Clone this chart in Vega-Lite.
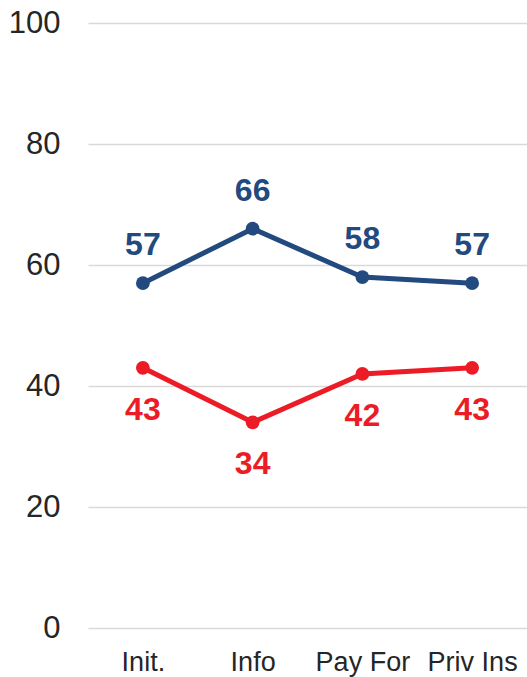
{
  "$schema": "https://vega.github.io/schema/vega-lite/v6.json",
  "width": 439,
  "height": 605,
  "autosize": "none",
  "padding": {"left": 88, "top": 23, "right": 0, "bottom": 49},
  "background": "white",
  "config": {
    "view": {"stroke": null},
    "font": "Liberation Sans"
  },
  "data": {
    "values": [
      {"cat": "Init.", "series": "A", "value": 57},
      {"cat": "Info", "series": "A", "value": 66},
      {"cat": "Pay For", "series": "A", "value": 58},
      {"cat": "Priv Ins", "series": "A", "value": 57},
      {"cat": "Init.", "series": "B", "value": 43},
      {"cat": "Info", "series": "B", "value": 34},
      {"cat": "Pay For", "series": "B", "value": 42},
      {"cat": "Priv Ins", "series": "B", "value": 43}
    ]
  },
  "encoding": {
    "x": {
      "field": "cat",
      "type": "nominal",
      "sort": ["Init.", "Info", "Pay For", "Priv Ins"],
      "scale": {"type": "point", "padding": 0.5},
      "axis": {
        "title": null,
        "labelAngle": 0,
        "labelFontSize": 27,
        "labelColor": "#262626",
        "labelFont": "Liberation Sans",
        "domain": false,
        "ticks": false,
        "labelPadding": 21,
        "grid": false
      }
    },
    "y": {
      "field": "value",
      "type": "quantitative",
      "scale": {"domain": [0, 100]},
      "axis": {
        "title": null,
        "values": [0, 20, 40, 60, 80, 100],
        "labelFontSize": 31,
        "labelColor": "#262626",
        "labelFont": "Liberation Sans",
        "domain": false,
        "ticks": false,
        "labelPadding": 28,
        "gridColor": "#d9d9d9",
        "gridWidth": 1.5
      }
    },
    "color": {
      "field": "series",
      "type": "nominal",
      "scale": {"domain": ["A", "B"], "range": ["#224a7e", "#ec1c26"]},
      "legend": null
    }
  },
  "layer": [
    {"mark": {"type": "line", "strokeWidth": 5}},
    {"mark": {"type": "point", "filled": true, "opacity": 1, "size": 190}},
    {
      "transform": [{"filter": "datum.series == 'A'"}],
      "mark": {"type": "text", "dy": -38, "fontSize": 32, "fontWeight": "bold", "font": "Liberation Sans"},
      "encoding": {"text": {"field": "value", "type": "quantitative"}}
    },
    {
      "transform": [{"filter": "datum.series == 'B'"}],
      "mark": {"type": "text", "dy": 42, "fontSize": 32, "fontWeight": "bold", "font": "Liberation Sans"},
      "encoding": {"text": {"field": "value", "type": "quantitative"}}
    }
  ]
}
